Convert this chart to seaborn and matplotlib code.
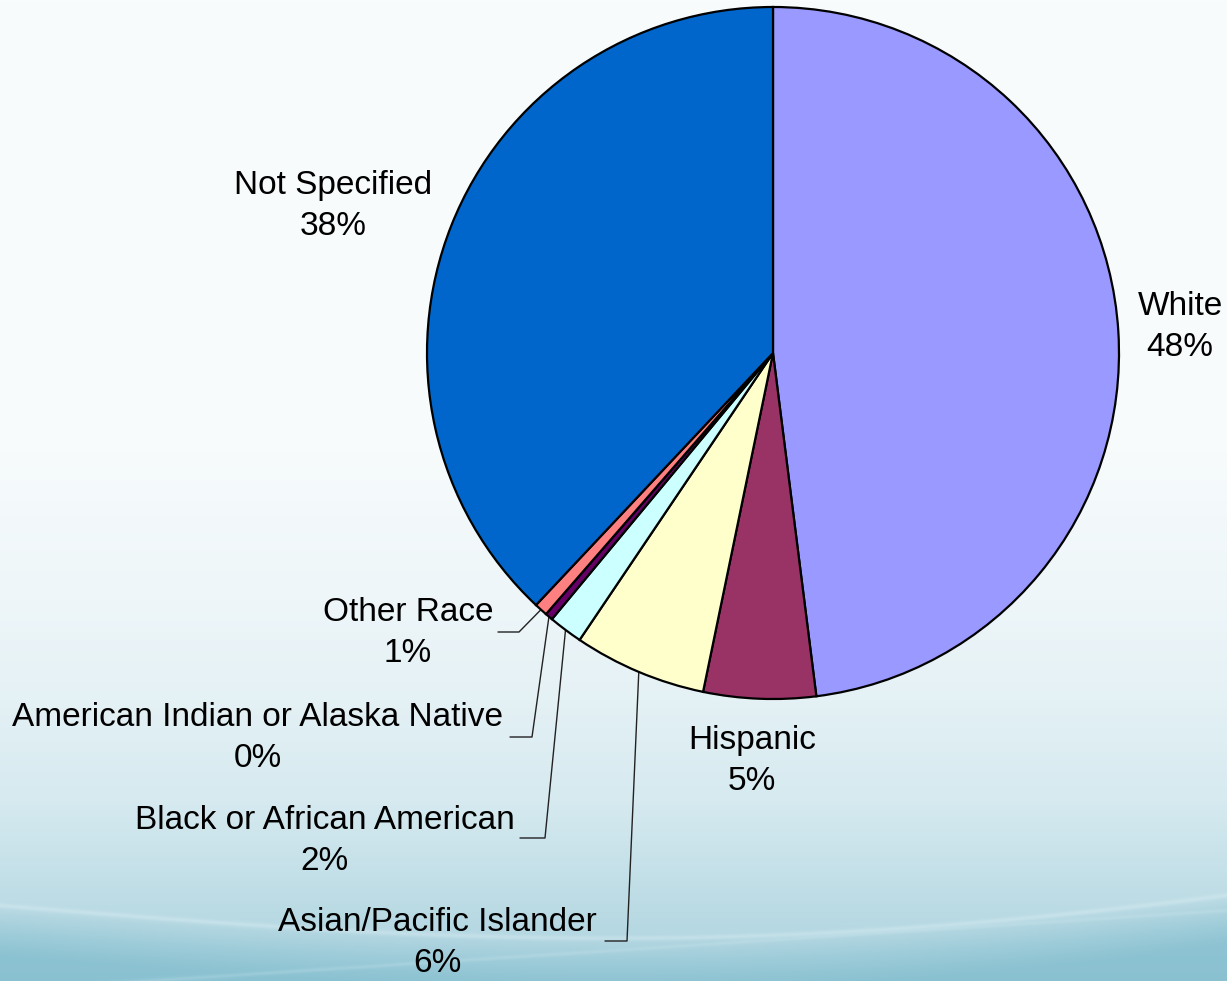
import numpy as np
import matplotlib
matplotlib.use("Agg")
import matplotlib.pyplot as plt
import seaborn as sns

# ---------------- data ----------------
categories = ["White", "Hispanic", "Asian/Pacific Islander", "Black or African American",
              "American Indian or Alaska Native", "Other Race", "Not Specified"]
values = [48.0, 5.24, 6.2, 1.59, 0.36, 0.62, 37.99]
colors = ["#9999ff", "#993366", "#ffffcc", "#ccffff", "#660066", "#ff8080", "#0066cc"]
pct_labels = ["48%", "5%", "6%", "2%", "0%", "1%", "38%"]

sns.set_theme(style="white")
plt.rcParams["font.family"] = ["Liberation Sans", "DejaVu Sans"]

W, H = 1227, 981
fig = plt.figure(figsize=(W / 100, H / 100), dpi=100)

# ---------------- background ----------------
bg = fig.add_axes([0, 0, 1, 1])
bg.set_axis_off()
yy, xx = np.mgrid[0:H, 0:W].astype(float)
stops_y = [0, 450, 600, 700, 800, 900, 981]
stops_c = np.array([[248, 252, 253], [247, 251, 252], [238, 246, 249], [228, 241, 245],
                    [214, 234, 240], [189, 220, 229], [170, 210, 222]]) / 255.0
img = np.zeros((H, W, 3))
for k in range(3):
    img[..., k] = np.interp(yy, stops_y, stops_c[:, k])
# wave: darker region under a curve, with a light streak on the curve
wave = 905 + 55 * np.sin(np.pi * xx / 1500.0) - 40 * (xx / W)
below = yy > wave
dark = np.array([128, 188, 205]) / 255.0
t = np.clip((yy - wave) / 50.0, 0, 1)[..., None]
img = np.where(below[..., None], img * (1 - 0.75 * t) + dark * 0.75 * t, img)
streak = np.exp(-((yy - wave) / 2.5) ** 2)[..., None]
img = img * (1 - 0.3 * streak) + np.array([0.90, 0.95, 0.97]) * 0.3 * streak
wave2 = 990 - 80 * (xx / W)
streak2 = np.exp(-((yy - wave2) / 2.0) ** 2)[..., None]
img = img * (1 - 0.2 * streak2) + np.array([0.85, 0.93, 0.95]) * 0.2 * streak2
bg.imshow(img, extent=[0, W, H, 0], aspect="auto", zorder=0)
bg.set_xlim(0, W)
bg.set_ylim(H, 0)

# ---------------- pie ----------------
cx, cy, R = 773, 353, 346
ax = fig.add_axes([(cx - R) / W, (H - cy - R) / H, 2 * R / W, 2 * R / H])
ax.set_axis_off()
wedges, _ = ax.pie(values, colors=colors, startangle=90, counterclock=False, radius=1,
                   wedgeprops=dict(edgecolor="black", linewidth=1.6))
ax.set_xlim(-1, 1)
ax.set_ylim(-1, 1)

# label layout in pixel coordinates (text block centre)
label_pos = {
    "White": (1180, 327),
    "Hispanic": (752, 761),
    "Asian/Pacific Islander": (437, 943),
    "Black or African American": (325, 841),
    "American Indian or Alaska Native": (258, 738),
    "Other Race": (408, 633),
    "Not Specified": (333, 206),
}
# leader lines: elbow and end point (pixels)
leaders = {
    "Other Race": ((519, 632), (498, 632)),
    "American Indian or Alaska Native": ((532, 737), (510, 737)),
    "Black or African American": ((545, 838), (520, 838)),
    "Asian/Pacific Islander": ((627, 941), (605, 941)),
}

for w, cat, pl in zip(wedges, categories, pct_labels):
    px, py = label_pos[cat]
    bg.text(px, py, f"{cat}\n{pl}", ha="center", va="center", multialignment="center",
            fontsize=24, color="black", linespacing=1.45, zorder=5)
    if cat in leaders:
        mid = np.deg2rad((w.theta1 + w.theta2) / 2)
        ax_x = cx + R * np.cos(mid)
        ax_y = cy - R * np.sin(mid)
        (ex, ey), (sx, sy) = leaders[cat]
        bg.plot([ax_x, ex, sx], [ax_y, ey, ey], color="#222222", lw=1.0, zorder=4)

fig.savefig("out.png", dpi=100)
